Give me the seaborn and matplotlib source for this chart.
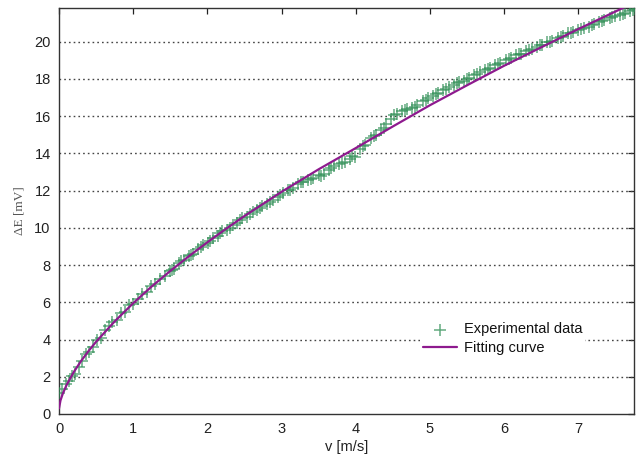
import matplotlib
matplotlib.use("Agg")
import matplotlib.pyplot as plt
import seaborn as sns
import pandas as pd

# Measured flow velocity [m/s] and potential difference [mV]
velocity = [
    0.00, 0.04, 0.09, 0.13, 0.18, 0.22, 0.27, 0.31, 0.36, 0.41, 0.46, 0.51,
    0.56, 0.62, 0.67, 0.72, 0.78, 0.84, 0.89, 0.95, 1.00, 1.06, 1.12, 1.18,
    1.24, 1.30, 1.36, 1.43, 1.49, 1.55, 1.62, 1.68, 1.75, 1.81, 1.88, 1.94,
    2.01, 2.07, 2.14, 2.20, 2.27, 2.34, 2.40, 2.47, 2.54, 2.61, 2.67, 2.74,
    2.81, 2.88, 2.95, 3.02, 3.08, 3.15, 3.22, 3.29, 3.36, 3.43, 3.50, 3.57,
    3.64, 3.71, 3.78, 3.85, 3.92, 3.99, 4.06, 4.13, 4.20, 4.27, 4.34, 4.41,
    4.48, 4.55, 4.62, 4.69, 4.76, 4.83, 4.90, 4.97, 5.04, 5.11, 5.18, 5.25,
    5.32, 5.39, 5.46, 5.53, 5.60, 5.67, 5.74, 5.81, 5.88, 5.95, 6.02, 6.09,
    6.16, 6.23, 6.30, 6.37, 6.44, 6.51, 6.58, 6.65, 6.72, 6.79, 6.86, 6.93,
    7.00, 7.07, 7.14, 7.21, 7.28, 7.35, 7.42, 7.49, 7.56, 7.63, 7.70, 7.76,
]
delta_e = [
    1.15, 1.35, 1.60, 1.75, 2.05, 2.15, 2.55, 2.85, 3.20, 3.35, 3.60, 3.95,
    4.10, 4.50, 4.70, 4.95, 5.05, 5.40, 5.50, 5.85, 5.90, 6.20, 6.45, 6.55,
    6.85, 7.00, 7.25, 7.40, 7.70, 7.80, 8.10, 8.25, 8.50, 8.60, 8.85, 9.05,
    9.20, 9.45, 9.55, 9.80, 9.90, 10.15, 10.25, 10.50, 10.60, 10.85, 10.95, 11.15,
    11.30, 11.50, 11.65, 11.85, 12.05, 12.15, 12.35, 12.45, 12.55, 12.65, 12.85, 12.90,
    13.10, 13.30, 13.45, 13.55, 13.70, 13.80, 14.25, 14.45, 14.80, 15.00, 15.25, 15.55,
    15.85, 16.10, 16.25, 16.35, 16.45, 16.60, 16.80, 16.95, 17.10, 17.25, 17.40, 17.55,
    17.65, 17.80, 17.90, 18.05, 18.20, 18.35, 18.45, 18.60, 18.75, 18.85, 19.00, 19.10,
    19.25, 19.35, 19.50, 19.60, 19.70, 19.80, 19.95, 20.05, 20.20, 20.30, 20.45, 20.50,
    20.60, 20.70, 20.80, 20.95, 21.05, 21.15, 21.25, 21.35, 21.45, 21.55, 21.65, 21.75,
]

# Second pass of the same sweep
velocity_run2 = [
    1.52, 1.65, 1.78, 1.91, 2.04, 2.17, 2.30, 2.44, 2.57, 2.71, 2.84, 2.98,
    3.12, 3.26, 3.40, 3.53, 3.67, 3.81, 3.95, 4.10, 4.24, 4.38, 4.52, 4.66,
    4.80, 4.94, 5.08, 5.22, 5.36, 5.50, 5.64, 5.78, 5.92, 6.06, 6.20, 6.34,
    6.48, 6.62, 6.76, 6.90, 7.04, 7.18, 7.32, 7.46, 7.60, 7.73,
]
delta_e_run2 = [
    7.72, 8.20, 8.52, 8.98, 9.30, 9.70, 10.00, 10.40, 10.75, 11.05, 11.40, 11.75,
    12.05, 12.45, 12.60, 12.80, 13.20, 13.50, 13.85, 14.40, 14.95, 15.35, 16.05, 16.30,
    16.50, 16.85, 17.20, 17.45, 17.75, 18.00, 18.25, 18.50, 18.80, 19.05, 19.35, 19.55,
    19.80, 20.00, 20.25, 20.45, 20.65, 20.90, 21.10, 21.30, 21.50, 21.70,
]

# Fitted characteristic
fit_velocity = [0.0, 0.02, 0.05, 0.1, 0.2, 0.3, 0.4, 0.5, 0.75, 1.0, 1.25, 1.5,
                1.75, 2.0, 2.25, 2.5, 3.0, 3.5, 4.0, 4.5, 5.0, 5.5, 6.0, 6.5,
                7.0, 7.5, 7.6, 7.75]
fit_delta_e = [0.30, 0.73, 1.08, 1.54, 2.26, 2.86, 3.39, 3.88, 4.97, 5.95, 6.85, 7.68,
               8.47, 9.22, 9.94, 10.63, 11.93, 13.14, 14.28, 15.44, 16.58, 17.65, 18.70, 19.69,
               20.67, 21.61, 21.80, 22.08]

y_ticks = [0, 2, 4, 6, 8, 10, 12, 14, 16, 18, 20]
x_ticks = [0, 1, 2, 3, 4, 5, 6, 7]

sns.set_style("white")
plt.rcParams["font.family"] = ["Liberation Sans", "DejaVu Sans"]

meas = pd.DataFrame({"v": velocity + velocity_run2,
                     "dE": delta_e + delta_e_run2}).sort_values("v")
fit = pd.DataFrame({"v": fit_velocity, "dE": fit_delta_e})

fig = plt.figure(figsize=(6.4, 4.62), dpi=100)
ax = fig.add_axes([0.0922, 0.1039, 0.8984, 0.8788])

sns.scatterplot(data=meas, x="v", y="dE", marker="+", s=64, linewidth=1.1,
                color="#2f8f55", alpha=0.75, ax=ax, label="Experimental data",
                zorder=3)
sns.lineplot(data=fit, x="v", y="dE", color="#8e1a8e", linewidth=1.6,
             ax=ax, label="Fitting curve", zorder=4, sort=False)

ax.set_xlim(0, 7.75)
ax.set_ylim(0, 21.8)
ax.set_xticks(x_ticks)
ax.set_yticks(y_ticks)

# Horizontal dotted grid only
for yv in y_ticks[1:]:
    ax.axhline(yv, color="#444444", linestyle=(0, (1.2, 2.2)), linewidth=1.0,
               zorder=1)

ax.tick_params(direction="in", length=4, width=0.9, colors="#222222",
               labelsize=10.5, top=True, right=True, pad=6)
for sp in ax.spines.values():
    sp.set_color("#333333")
    sp.set_linewidth(1.0)
    sp.set_visible(True)

ax.set_xlabel("v [m/s]", fontsize=10.5, color="#222222", labelpad=3)
ax.set_ylabel("ΔE [mV]", fontsize=9.5, color="#555555", labelpad=6,
              family=["Liberation Serif", "DejaVu Serif"])

leg = ax.legend(loc="center left", bbox_to_anchor=(0.628, 0.185),
                frameon=True, fontsize=10.5, borderpad=0.2, borderaxespad=0,
                handlelength=2.3, handletextpad=0.5, labelspacing=0.35)
leg.get_frame().set_edgecolor("none")
leg.get_frame().set_facecolor("white")
leg.get_frame().set_alpha(1.0)
leg.set_zorder(5)
for t in leg.get_texts():
    t.set_color("#111111")

fig.savefig("out.png", dpi=100)
